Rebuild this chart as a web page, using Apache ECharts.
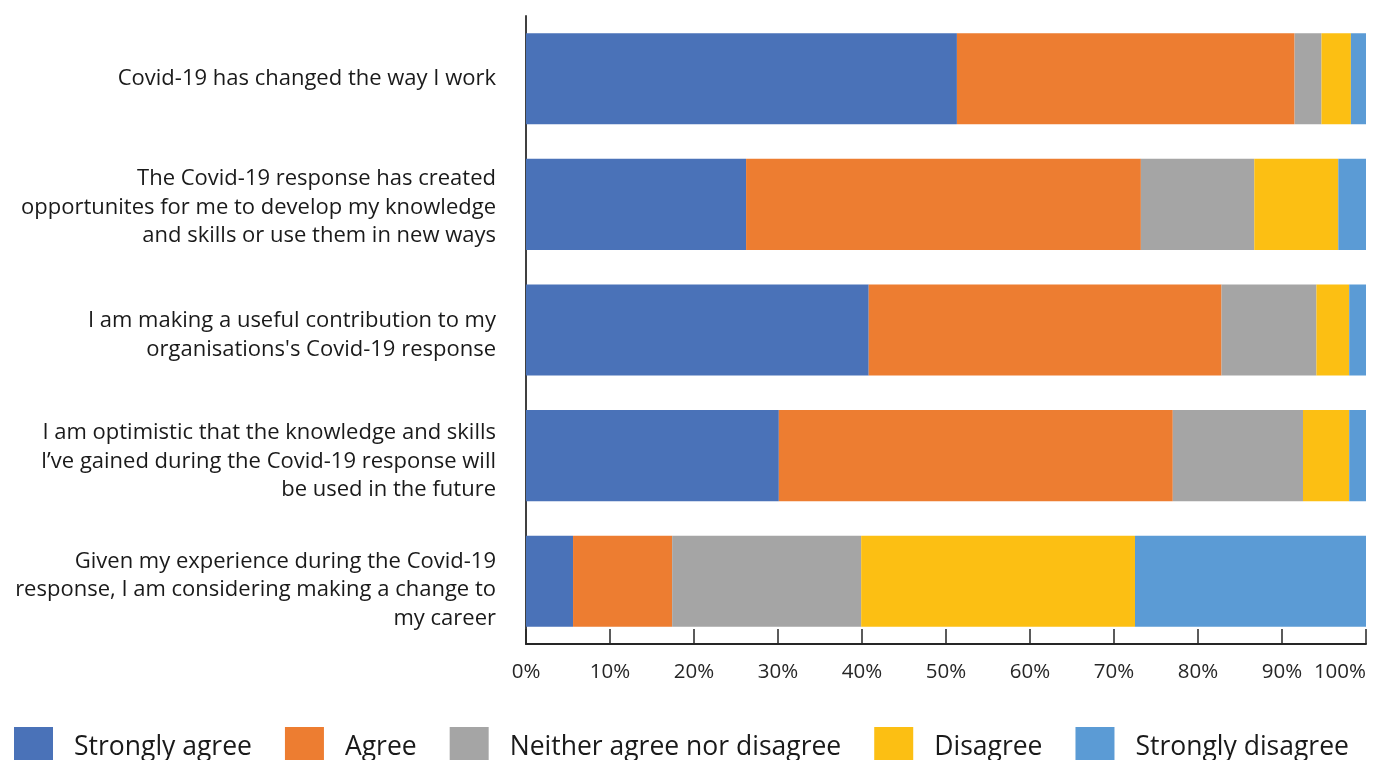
<!DOCTYPE html>
<html>
<head>
<meta charset="utf-8">
<script src="https://cdn.jsdelivr.net/npm/echarts@6/dist/echarts.min.js"></script>
<style>html,body{margin:0;padding:0;background:#fff;}#c{width:1375px;height:760px;}</style>
</head>
<body>
<div id="c"></div>
<script>
const categories = [
  "Covid-19 has changed the way I work",
  "The Covid-19 response has created\nopportunites for me to develop my knowledge\nand skills or use them in new ways",
  "I am making a useful contribution to my\norganisations's Covid-19 response",
  "I am optimistic that the knowledge and skills\nI\u2019ve gained during the Covid-19 response will\nbe used in the future",
  "Given my experience during the Covid-19\nresponse, I am considering making a change to\nmy career"
];
const seriesNames = ["Strongly agree", "Agree", "Neither agree nor disagree", "Disagree", "Strongly disagree"];
const stronglyAgree = [51.3, 26.2, 40.8, 30.1, 5.6];
const agree = [40.2, 47.0, 42.0, 46.9, 11.8];
const neither = [3.2, 13.5, 11.3, 15.5, 22.5];
const disagree = [3.5, 10.0, 3.9, 5.5, 32.6];
const stronglyDisagree = [1.8, 3.3, 2.0, 2.0, 27.5];
const colors = ["#4A72B8", "#ED7D31", "#A5A5A5", "#FCBF13", "#5B9BD5"];
const FONT = "Open Sans";
// vertical nudges (px, downward) for the category labels
const labelShift = [0, 3, 5, 6, 9];

const rich = {};
labelShift.forEach((s, i) => { rich['g' + i] = {fontSize: 1, lineHeight: Math.max(1, s * 2), align: 'right'}; });

const chart = echarts.init(document.getElementById('c'), null, {renderer: 'canvas'});
const values = [stronglyAgree, agree, neither, disagree, stronglyDisagree];
chart.setOption({
  animation: false,
  color: colors,
  grid: {left: 526, right: 9, top: 16, bottom: 116, containLabel: false},
  legend: {
    left: 14, top: 727, padding: 0,
    itemWidth: 39, itemHeight: 40, itemGap: 33,
    icon: 'rect',
    textStyle: {fontFamily: FONT, fontSize: 26.5, color: '#1a1a1a', padding: [0, 0, 0, 16]},
    data: seriesNames
  },
  xAxis: {
    type: 'value', min: 0, max: 100, interval: 10,
    axisLine: {show: true, lineStyle: {color: '#262626', width: 2}},
    axisTick: {show: true, inside: true, length: 15, lineStyle: {color: '#262626', width: 1.5}},
    splitLine: {show: false},
    axisLabel: {formatter: '{value}%', fontFamily: FONT, fontSize: 20.5, color: '#262626', margin: 18, alignMaxLabel: 'right'}
  },
  yAxis: {
    type: 'category', inverse: true, data: categories,
    axisLine: {show: true, lineStyle: {color: '#404040', width: 2}},
    axisTick: {show: false},
    axisLabel: {
      fontFamily: FONT, fontSize: 22, color: '#1a1a1a', margin: 30, align: 'right', lineHeight: 28.5,
      formatter: (v, i) => labelShift[i] ? ('{g' + i + '| }\n' + v) : v,
      rich: rich
    }
  },
  series: seriesNames.map((n, i) => ({
    name: n, type: 'bar', stack: 'total', data: values[i],
    barCategoryGap: '27.5%',
    itemStyle: {color: colors[i]}
  }))
});
</script>
</body>
</html>
